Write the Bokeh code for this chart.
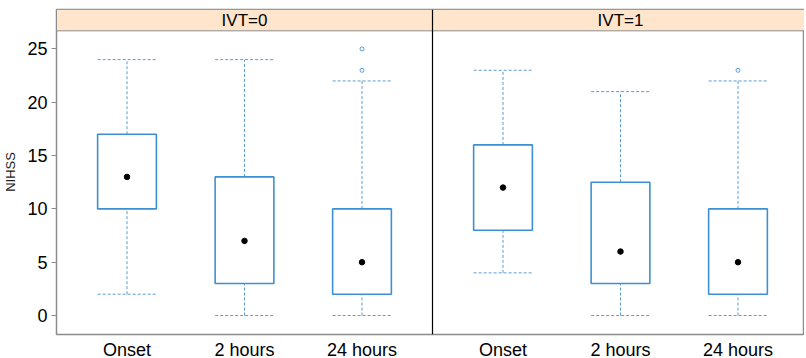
from bokeh.plotting import figure
from bokeh.models import ColumnDataSource, FixedTicker, Span, Range1d
from bokeh.core.properties import value
from bokeh.embed import file_html
from bokeh.resources import INLINE

# NIHSS by time point, split by IVT group
panels = ["IVT=0", "IVT=1"]
times = ["Onset", "2 hours", "24 hours"]

ivt0_low = [2, 0, 0]
ivt0_q1 = [10, 3, 2]
ivt0_med = [13, 7, 5]
ivt0_q3 = [17, 13, 10]
ivt0_high = [24, 24, 22]

ivt1_low = [4, 0, 0]
ivt1_q1 = [8, 3, 2]
ivt1_med = [12, 6, 5]
ivt1_q3 = [16, 12.5, 10]
ivt1_high = [23, 21, 22]

# outliers: (time index, value)
ivt0_out_idx = [2, 2]
ivt0_out_val = [23, 25]
ivt1_out_idx = [2]
ivt1_out_val = [23]

y_ticks = [0, 5, 10, 15, 20, 25]

# the two panels share one numeric x scale; categories are STEP apart,
# each panel spans 3 categories plus 0.6 of a step of padding on each side
STEP = 10
PANEL_SPAN = 32
X0 = 4
Y_LO, Y_HI = -1.78, 26.7  # panel data range
STRIP_TOP = 28.7          # strip sits above the panel range

BOX_W = 5
box_col = "#3d8fd1"
whisk_col = "#5b9bd5"

FRAME_W = 748
FRAME_H = 325

p = figure(
    width=806, height=358,
    frame_width=FRAME_W, frame_height=FRAME_H,
    x_range=Range1d(X0, X0 + FRAME_W / 376 * PANEL_SPAN),
    y_range=Range1d(Y_LO, STRIP_TOP),
    output_backend="svg", toolbar_location=None,
    min_border_left=0, min_border_right=0, min_border_top=9, min_border_bottom=0,
)
p.background_fill_color = "white"
p.border_fill_color = "white"
p.outline_line_color = "#8c8c8c"
p.outline_line_width = 1.5
p.xgrid.visible = False
p.ygrid.visible = False

groups = [
    (ivt0_low, ivt0_q1, ivt0_med, ivt0_q3, ivt0_high, ivt0_out_idx, ivt0_out_val),
    (ivt1_low, ivt1_q1, ivt1_med, ivt1_q3, ivt1_high, ivt1_out_idx, ivt1_out_val),
]

tick_pos = []
tick_lab = {}
for g, (lo, q1, med, q3, hi, oi, ov) in enumerate(groups):
    offset = g * PANEL_SPAN
    xs = [(i + 1) * STEP + offset for i in range(len(times))]
    for x, t in zip(xs, times):
        tick_pos.append(x)
        tick_lab[x] = t
    src = ColumnDataSource(dict(x=xs, lo=lo, q1=q1, med=med, q3=q3, hi=hi,
                                left=[x - BOX_W / 2 for x in xs],
                                right=[x + BOX_W / 2 for x in xs]))
    # whiskers and caps
    for y0, y1 in (("q3", "hi"), ("lo", "q1")):
        p.segment(x0="x", y0=y0, x1="x", y1=y1, source=src,
                  line_color=whisk_col, line_dash="3 2", line_width=1)
    for yy in ("hi", "lo"):
        p.segment(x0="left", y0=yy, x1="right", y1=yy, source=src,
                  line_color=whisk_col, line_dash="3 2", line_width=1)
    # boxes
    p.quad(left="left", right="right", bottom="q1", top="q3", source=src,
           fill_color="white", line_color=box_col, line_width=1.6)
    # medians as dots
    p.scatter(x="x", y="med", source=src, size=5.5, color="black")
    # outliers
    p.scatter(x=[(i + 1) * STEP + offset for i in oi], y=ov, size=4,
              fill_color=None, line_color=whisk_col, line_width=1)

    # strip with panel label
    p.quad(left=[X0 + offset], right=[X0 + offset + PANEL_SPAN],
           bottom=[Y_HI], top=[STRIP_TOP],
           fill_color="#ffe5cc", line_color="#8c8c8c", line_width=1)
    p.text(x=[X0 + offset + PANEL_SPAN / 2], y=[(Y_HI + STRIP_TOP) / 2],
           text=[panels[g]], text_align="center", text_baseline="middle",
           text_font=value("Liberation Sans"), text_font_size="17px",
           text_color="black")

# divider between the panels
p.add_layout(Span(location=X0 + PANEL_SPAN, dimension="height",
                  line_color="black", line_width=1.2))

p.xaxis.ticker = FixedTicker(ticks=tick_pos)
p.xaxis.major_label_overrides = tick_lab
p.xaxis.major_tick_out = 0
p.xaxis.major_tick_in = 0
p.xaxis.minor_tick_line_color = None
p.xaxis.axis_line_color = "#8c8c8c"
p.xaxis.major_label_text_font = "Liberation Sans"
p.xaxis.major_label_text_font_size = "18px"
p.xaxis.major_label_text_color = "black"
p.xaxis.major_label_standoff = 5

p.yaxis.ticker = FixedTicker(ticks=y_ticks)
p.yaxis.axis_label = "NIHSS"
p.yaxis.axis_label_text_font = "Liberation Sans"
p.yaxis.axis_label_text_font_size = "13px"
p.yaxis.axis_label_text_font_style = "normal"
p.yaxis.axis_label_text_color = "#222222"
p.yaxis.axis_label_standoff = 6
p.yaxis.major_tick_out = 5
p.yaxis.major_tick_in = 0
p.yaxis.minor_tick_line_color = None
p.yaxis.major_tick_line_color = "#8c8c8c"
p.yaxis.axis_line_color = "#8c8c8c"
p.yaxis.major_label_text_font = "Liberation Sans"
p.yaxis.major_label_text_font_size = "18px"
p.yaxis.major_label_text_color = "black"
p.yaxis.major_label_standoff = 4

open("out.html", "w").write(file_html(p, INLINE))
